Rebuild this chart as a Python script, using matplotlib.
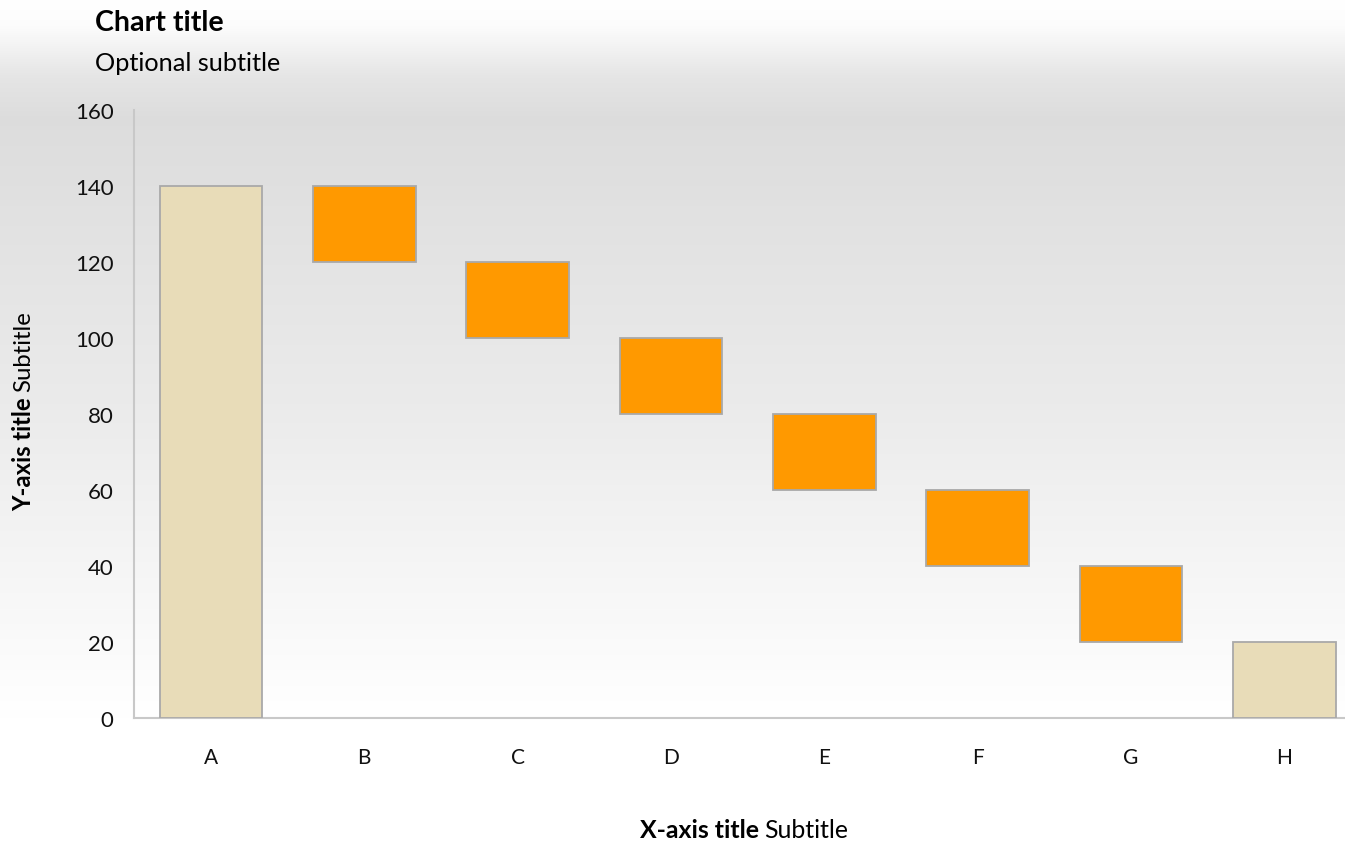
import numpy as np
import matplotlib
matplotlib.use("Agg")
import matplotlib.pyplot as plt

categories = ["A", "B", "C", "D", "E", "F", "G", "H"]
bar_bottoms = [0, 120, 100, 80, 60, 40, 20, 0]
bar_tops = [140, 140, 120, 100, 80, 60, 40, 20]
bar_kind = ["total", "delta", "delta", "delta", "delta", "delta", "delta", "total"]
yticks = [0, 20, 40, 60, 80, 100, 120, 140, 160]

W, H = 1345, 845
fig = plt.figure(figsize=(W / 100, H / 100), dpi=100)

# background gradient
bg = fig.add_axes([0, 0, 1, 1], zorder=-10)
ys = np.linspace(0, 1, 400)  # 0 top -> 1 bottom
vals = np.interp(ys, [0, 0.03, 0.09, 0.14, 0.5, 0.85, 1.0], [1.0, 0.99, 0.90, 0.865, 0.925, 1.0, 1.0])
img = np.dstack([vals, vals, vals]).reshape(400, 1, 3)
bg.imshow(img, aspect="auto", extent=[0, 1, 0, 1], interpolation="bilinear")
bg.set_axis_off()

x0 = 134.3
ax = fig.add_axes([x0 / W, 1 - 719 / H, 1226.7 / W, (719 - 111) / H])
ax.patch.set_alpha(0)
colors = {"total": "#e8dcb8", "delta": "#ff9900"}
x = np.arange(len(categories))
heights = [t - b for t, b in zip(bar_tops, bar_bottoms)]
ax.bar(x, heights, bottom=bar_bottoms, width=0.67,
       color=[colors[k] for k in bar_kind], edgecolor="#a9a9a9", linewidth=1.3, zorder=3)
ax.set_xlim(-0.5, 7.5)
ax.set_ylim(0, 160)
ax.set_yticks(yticks)
ax.set_yticklabels([str(v) for v in yticks], fontsize=16, family="Lato", color="#111111")
ax.set_xticks(x)
ax.set_xticklabels(categories, fontsize=15, family="Lato", color="#111111")
for s in ["top", "right"]:
    ax.spines[s].set_visible(False)
for s in ["left", "bottom"]:
    ax.spines[s].set_color("#c8c8c8")
    ax.spines[s].set_linewidth(1.5)
ax.tick_params(axis="both", length=0)
ax.tick_params(axis="y", pad=15)
ax.tick_params(axis="x", pad=21)

fam = "Lato"
fig.canvas.draw()
r = fig.canvas.get_renderer()

def width_at(text, size, weight):
    t = fig.text(0, 0, text, fontsize=size, fontweight=weight, family=fam)
    w = t.get_window_extent(r).width
    t.remove()
    return w

def fit(text, weight, target):
    return 10 * target / width_at(text, 10, weight)

ts = fit("Chart title", "bold", 129)
ss = fit("Optional subtitle", "normal", 186)
fig.text(95 / W, 1 - 31 / H, "Chart title", fontsize=ts, fontweight="bold", family=fam, va="baseline", ha="left")
fig.text(95 / W, 1 - 71 / H, "Optional subtitle", fontsize=ss, family=fam, va="baseline", ha="left")

def two_part(xc, yb, bold, normal, target, rotation=0):
    size = fit(bold + " " + normal, "bold", target) * 1.03
    a = fig.text(0, 0, bold + " ", fontsize=size, fontweight="bold", family=fam)
    b = fig.text(0, 0, normal, fontsize=size, family=fam)
    wa = a.get_window_extent(r).width
    wb = b.get_window_extent(r).width
    tot = wa + wb
    if rotation == 0:
        start = xc - tot / 2
        a.set_position((start / W, yb / H)); a.set_va("baseline"); a.set_ha("left")
        b.set_position(((start + wa) / W, yb / H)); b.set_va("baseline"); b.set_ha("left")
    else:
        start = yb - tot / 2
        a.set_rotation(90); b.set_rotation(90)
        a.set_position((xc / W, start / H)); a.set_ha("center"); a.set_va("bottom")
        b.set_position((xc / W, (start + wa) / H)); b.set_ha("center"); b.set_va("bottom")

two_part(744, H - 838, "X-axis title", "Subtitle", 205)
two_part(24, H - 411, "Y-axis title", "Subtitle", 197, rotation=90)

fig.savefig("out.png", dpi=100)
